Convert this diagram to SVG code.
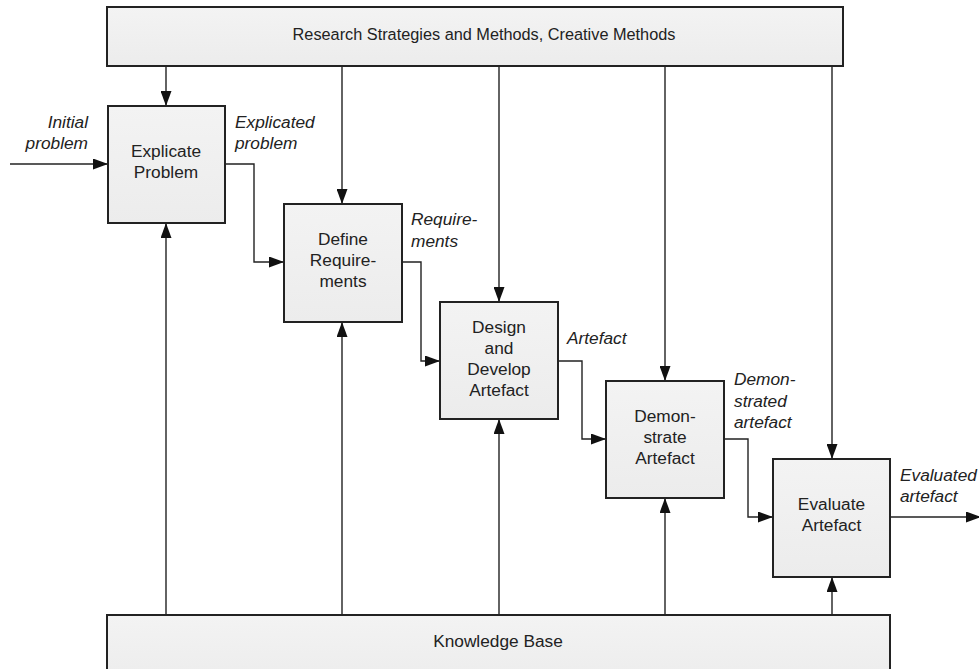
<svg xmlns="http://www.w3.org/2000/svg" width="979" height="669" viewBox="0 0 979 669">
<style>
.box{fill:url(#g);stroke:#222;stroke-width:2}
.t{font-family:"Liberation Sans",Arial,sans-serif;font-size:17.3px;fill:#222;text-anchor:middle}
.l{font-family:"Liberation Sans",Arial,sans-serif;font-size:17.3px;fill:#222;font-style:italic}
.c{fill:none;stroke:#222;stroke-width:1.4;marker-end:url(#a)}
</style>
<defs>
<linearGradient id="g" x1="0" y1="0" x2="0" y2="1"><stop offset="0" stop-color="#f3f3f3"/><stop offset="1" stop-color="#ececec"/></linearGradient>
<marker id="a" markerUnits="userSpaceOnUse" markerWidth="15" markerHeight="11" refX="15" refY="5.5" orient="auto"><path d="M0,0 L15,5.5 L0,11 z" fill="#111"/></marker>
</defs>
<g id="connectors">
<path class="c" d="M166,66 V106"/>
<path class="c" d="M342,66 V204"/>
<path class="c" d="M499,66 V302"/>
<path class="c" d="M665,66 V381"/>
<path class="c" d="M832,66 V459"/>
<path class="c" d="M10,164 H108"/>
<path class="c" d="M225,164 H254 V262 H284"/>
<path class="c" d="M402,262 H421 V361 H440"/>
<path class="c" d="M558,361 H582 V439 H606"/>
<path class="c" d="M724,439 H748 V517 H773"/>
<path class="c" d="M890,517 H981"/>
<path class="c" d="M166,615 V223"/>
<path class="c" d="M342,615 V322"/>
<path class="c" d="M499,615 V419"/>
<path class="c" d="M665,615 V498"/>
<path class="c" d="M832,615 V577"/>
</g>
<g id="research">
<rect class="box" x="107" y="7" width="736" height="59"/>
<text class="t" x="484" y="40" style="font-size:16.3px">Research Strategies and Methods, Creative Methods</text>
</g>
<g id="knowledge">
<rect class="box" x="107" y="615" width="783" height="70"/>
<text class="t" x="498" y="647">Knowledge Base</text>
</g>
<g id="explicate">
<rect class="box" x="108" y="106" width="117" height="117"/>
<text class="t" x="166" y="157">Explicate</text>
<text class="t" x="166" y="178">Problem</text>
</g>
<g id="define">
<rect class="box" x="284" y="204" width="118" height="118"/>
<text class="t" x="343" y="245">Define</text>
<text class="t" x="343" y="266">Require-</text>
<text class="t" x="343" y="287">ments</text>
</g>
<g id="design">
<rect class="box" x="440" y="302" width="118" height="117"/>
<text class="t" x="499" y="333">Design</text>
<text class="t" x="499" y="354">and</text>
<text class="t" x="499" y="375">Develop</text>
<text class="t" x="499" y="396">Artefact</text>
</g>
<g id="demonstrate">
<rect class="box" x="606" y="381" width="118" height="117"/>
<text class="t" x="665" y="422">Demon-</text>
<text class="t" x="665" y="443">strate</text>
<text class="t" x="665" y="464">Artefact</text>
</g>
<g id="evaluate">
<rect class="box" x="773" y="459" width="117" height="118"/>
<text class="t" x="831.5" y="510">Evaluate</text>
<text class="t" x="831.5" y="531">Artefact</text>
</g>
<g id="labels">
<text class="l" x="88" y="128" text-anchor="end">Initial</text>
<text class="l" x="88" y="149" text-anchor="end">problem</text>
<text class="l" x="235" y="128">Explicated</text>
<text class="l" x="235" y="149">problem</text>
<text class="l" x="411" y="225">Require-</text>
<text class="l" x="411" y="247">ments</text>
<text class="l" x="567" y="344">Artefact</text>
<text class="l" x="734" y="385">Demon-</text>
<text class="l" x="734" y="407">strated</text>
<text class="l" x="734" y="428">artefact</text>
<text class="l" x="900" y="481">Evaluated</text>
<text class="l" x="900" y="502">artefact</text>
</g>
</svg>
